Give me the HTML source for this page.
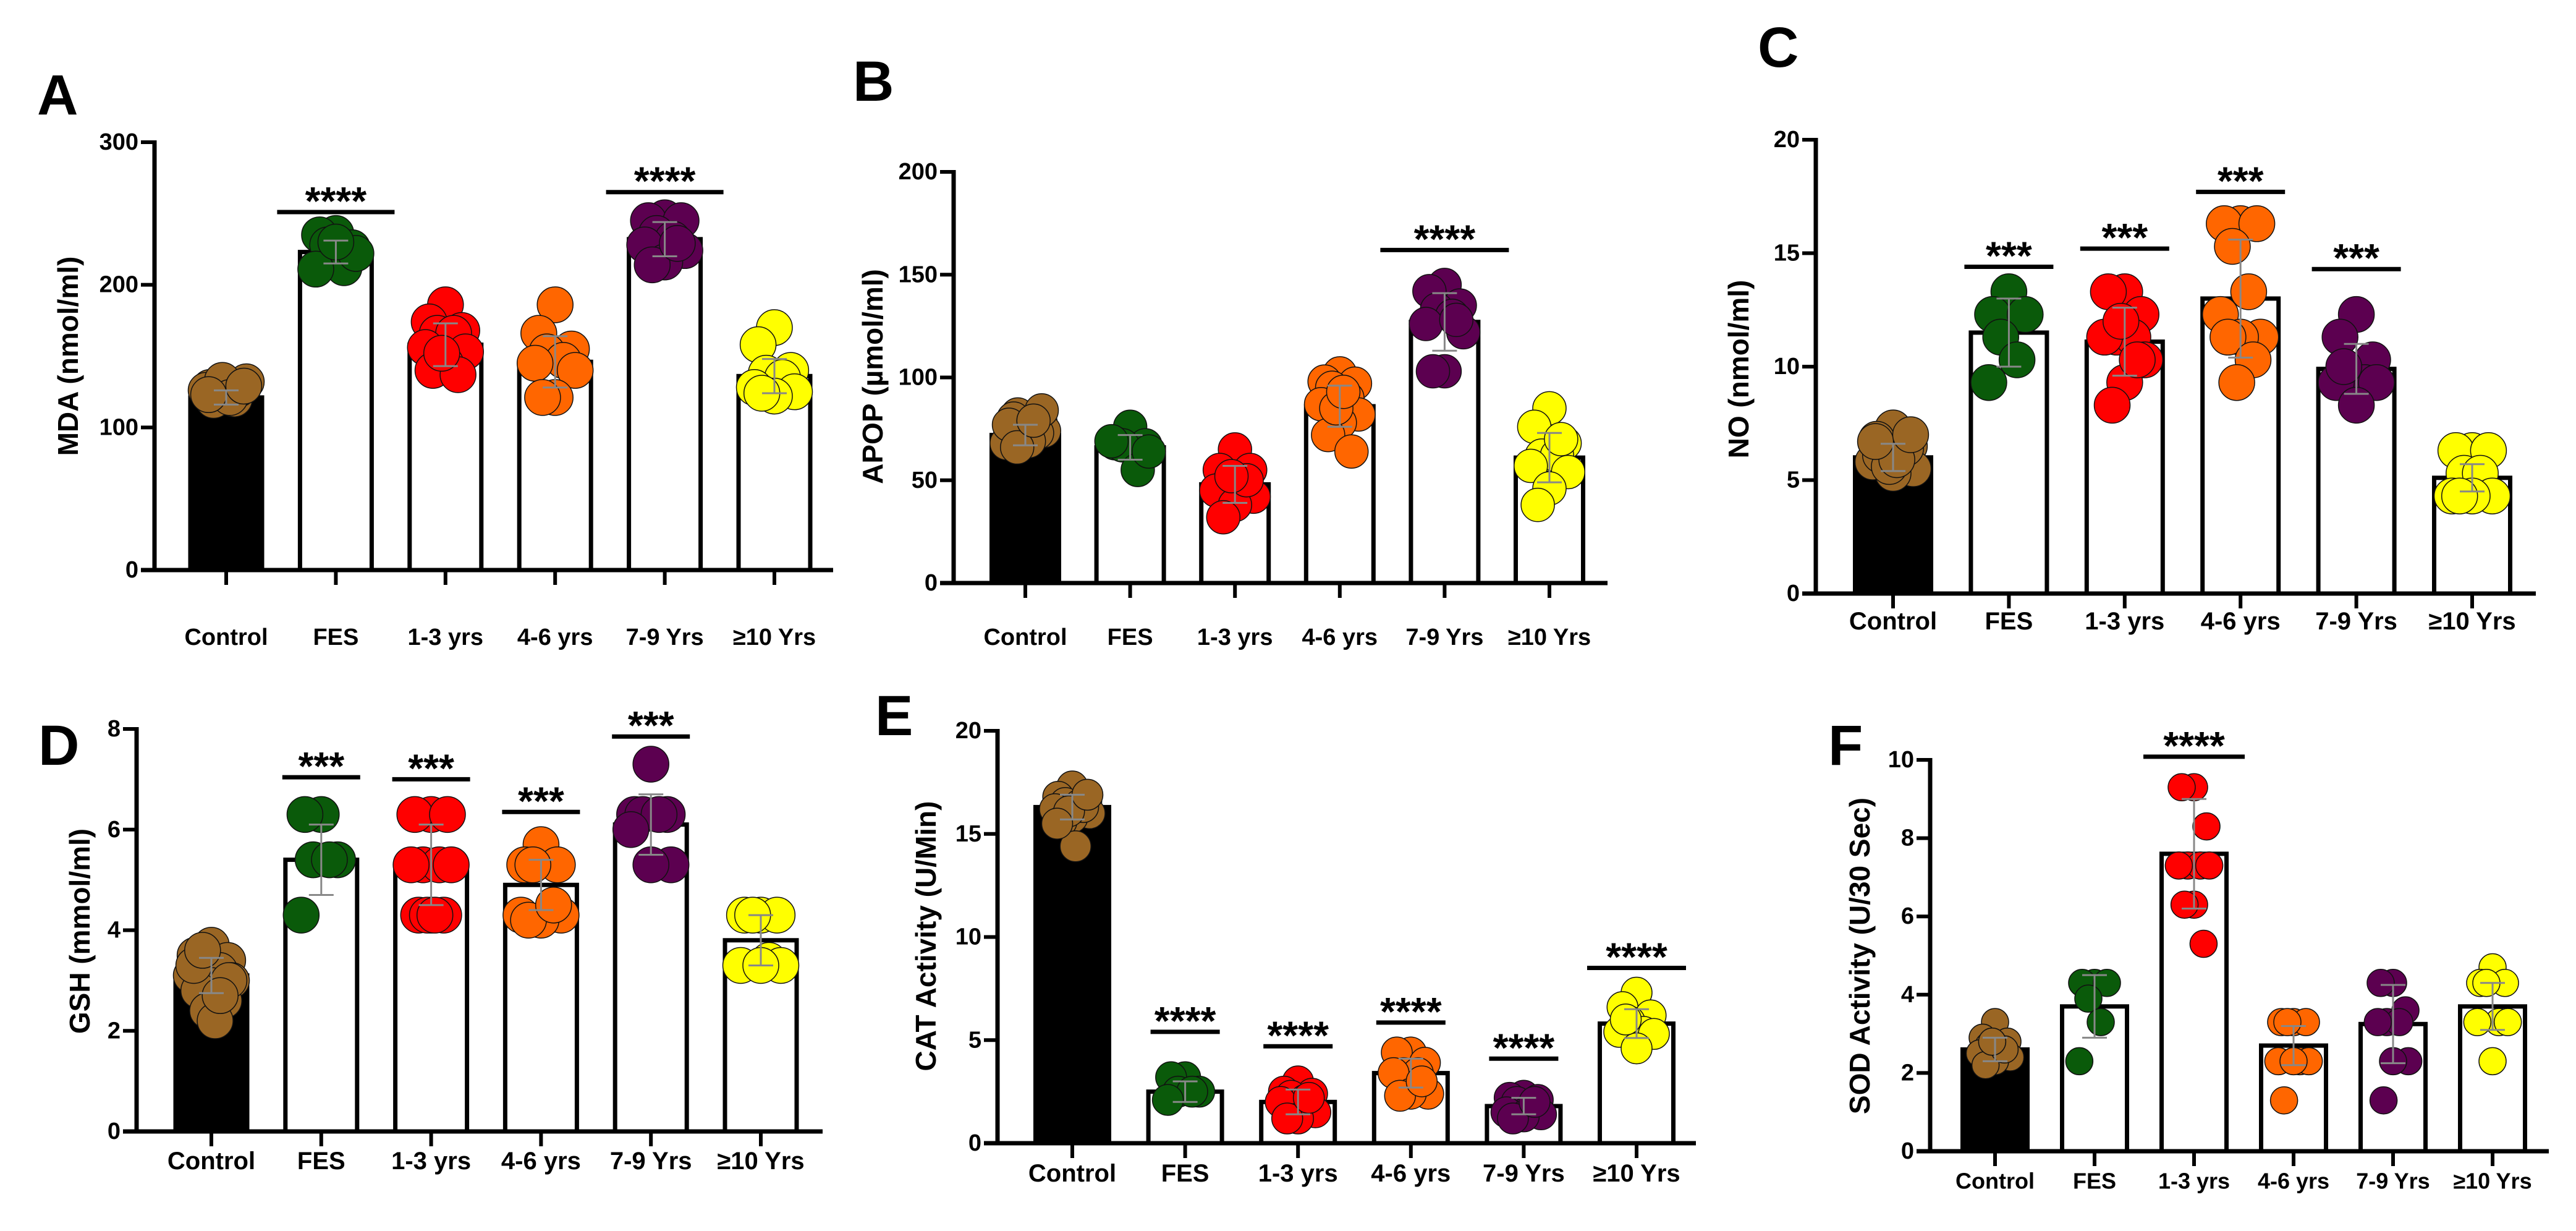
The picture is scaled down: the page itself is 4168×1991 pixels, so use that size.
<!DOCTYPE html>
<html><head><meta charset="utf-8"><style>
html,body{margin:0;padding:0;background:#fff}
svg{display:block}
text{font-family:"Liberation Sans",sans-serif;font-weight:bold;fill:#000}
</style></head><body>
<svg id="fig" xmlns="http://www.w3.org/2000/svg" width="4168" height="1991" viewBox="0 0 4168 1991"></svg>
<script>
const categories = ["Control","FES","1-3 yrs","4-6 yrs","7-9 Yrs","≥10 Yrs"];
const colors = ["#9a6624","#0a5a0a","#ff0000","#ff6600","#5c0050","#ffff00"];

// Panel A: MDA
const meansA = [121,223,158,146,232,136];
const sdA = [5,8,15,18,12,12];
const dotsA = [[125,128,130,122,120,126,132,124,119,127,133,121,123,129],[236,235,226,228,212,211,222,230],[186,174,168,166,166,156,153,145,140,137,152],[186,166,155,153,147,145,140,121,121],[247,245,245,236,232,228,224,216,214,229],[170,158,140,138,135,128,125,122,124]];
const sigA = [[1,251,"****"],[4,265,"****"]];
const ticksA = [0,100,200,300];

// Panel B: APOP
const meansB = [72,66,48,86,127,61];
const sdB = [5,6,9,10,14,12];
const dotsB = [[70,75,78,82,72,68,74,76,80,73,71,69,77,84,66,79],[76,68,67,67,55,69,64],[65,55,55,48,45,45,42,38,32,50,52],[102,98,97,95,90,87,82,78,72,64,85,93],[145,142,135,133,130,126,122,103,103,128],[85,76,68,62,62,57,54,46,38,70]];
const sigB = [[4,162,"****"]];
const ticksB = [0,50,100,150,200];

// Panel C: NO
const meansC = [6.0,11.5,11.1,13.0,9.9,5.1];
const sdC = [0.6,1.5,1.5,2.6,1.1,0.6];
const dotsC = [[7.3,6.8,6.5,6.2,6.0,5.8,5.5,5.3,6.1,6.4,5.6,5.9,6.7,7.0],[13.3,12.3,12.3,11.3,10.3,9.3],[13.3,13.3,12.3,11.3,11.3,11.3,10.3,9.3,8.3,10.3,12.0],[16.3,16.3,16.3,15.3,13.3,12.3,11.3,11.3,11.3,10.3,9.3],[12.3,11.3,10.3,9.3,9.3,9.3,9.3,8.3,10.0],[6.3,6.3,6.3,5.3,5.3,4.3,4.3,4.3,4.3]];
const sigC = [[1,14.4,"***"],[2,15.2,"***"],[3,17.7,"***"],[4,14.3,"***"]];
const ticksC = [0,5,10,15,20];

// Panel D: GSH
const meansD = [3.1,5.4,5.3,4.9,6.1,3.8];
const sdD = [0.35,0.7,0.8,0.5,0.6,0.5];
const dotsD = [[3.7,3.5,3.4,3.3,3.2,3.1,3.0,2.9,2.8,2.6,2.4,2.2,3.3,3.0,3.6,2.7],[6.3,6.3,5.4,5.4,5.4,4.3],[6.3,6.3,6.3,5.3,5.3,5.3,5.3,4.3,4.3,4.3,4.3,4.3],[5.7,5.3,5.3,5.3,4.3,4.3,4.3,4.2,4.2,4.5],[7.3,6.3,6.3,6.3,6.3,6.0,5.3,5.3],[4.3,4.3,4.3,4.3,3.4,3.3,3.3,3.3]];
const sigD = [[1,7.04,"***"],[2,7.0,"***"],[3,6.35,"***"],[4,7.85,"***"]];
const ticksD = [0,2,4,6,8];

// Panel E: CAT
const meansE = [16.3,2.5,2.0,3.4,1.8,5.8];
const sdE = [0.6,0.5,0.6,0.7,0.4,0.7];
const dotsE = [[17.3,16.8,16.6,16.5,16.4,16.2,16.0,15.8,15.6,16.3,16.1,14.4,15.5,16.9],[3.2,3.2,2.5,2.5,2.5,2.1],[3.0,2.5,2.4,2.3,2.1,2.0,1.5,1.2,1.2,2.2],[4.4,4.4,3.9,3.4,3.4,3.4,2.4,2.4,2.3,3.0],[2.3,2.2,2.1,2.0,1.7,1.5,1.4,1.3,1.2,2.0],[7.3,6.6,6.2,5.9,5.4,5.4,5.3,4.6,6.0]];
const sigE = [[1,5.4,"****"],[2,4.7,"****"],[3,5.85,"****"],[4,4.1,"****"],[5,8.5,"****"]];
const ticksE = [0,5,10,15,20];

// Panel F: SOD
const meansF = [2.6,3.7,7.6,2.7,3.25,3.7];
const sdF = [0.3,0.8,1.4,0.5,1.0,0.6];
const dotsF = [[3.3,2.9,2.8,2.7,2.6,2.5,2.4,2.3,2.2,2.6,2.8],[4.3,4.3,4.3,3.9,3.3,2.3],[9.3,9.3,8.3,7.3,7.3,7.3,7.3,6.3,6.3,5.3],[3.3,3.3,3.3,3.3,2.3,2.3,2.3,2.3,1.3],[4.3,4.3,3.6,3.3,3.3,3.3,2.3,2.3,1.3],[4.7,4.3,4.3,4.3,3.3,3.3,3.3,2.3]];
const sigF = [[2,10.08,"****"]];
const ticksF = [0,2,4,6,8,10];

const NS = "http://www.w3.org/2000/svg";
const svg = document.getElementById("fig");
function mk(tag, attrs, parent){
  const e = document.createElementNS(NS, tag);
  for (const k in attrs) e.setAttribute(k, attrs[k]);
  (parent||svg).appendChild(e);
  return e;
}
const jit = [0,-1.3,1.3,-0.65,0.65,-1.6,1.6,0,-1,1,-0.3,0.3,-1.4,1.4,-0.7,0.7];

function panel(L, means, sd, dots, sig, ticks){
  const g = mk("g", {});
  
  
  const max = ticks[ticks.length-1];
  const yS = v => L.y0 - (L.y0 - L.yTop) * v / max;
  const xS = i => L.c0 + i * L.dc;
  const lt = mk("text", {x:L.lx, y:L.ly, "font-size":92}, g);
  lt.textContent = L.letter;
  
  
  const tt = mk("text", {x:L.tx, y:L.ty, "font-size":46, "text-anchor":"middle", "dominant-baseline":"central", transform:`rotate(-90 ${L.tx} ${L.ty})`}, g);
  tt.textContent = L.title;
  
  
  means.forEach((m, i) => {
    const top = yS(m);
    const b = mk("rect", {x:xS(i)-L.bw/2, y:top, width:L.bw, height:L.y0-top,
      fill: i===0 ? "#000" : "#fff", stroke:"#000", "stroke-width":7}, g);
    
    
  });
  dots.forEach((arr, i) => {
    arr.forEach((v, k) => {
      const c = mk("circle", {cx:xS(i) + jit[k % jit.length] * L.r * 0.7, cy:yS(v), r:L.r,
        fill:colors[i], stroke:"#111", "stroke-width":1.5}, g);
      
      
    });
  });
  means.forEach((m, i) => {
    const x = xS(i), a = yS(m + sd[i]), b = yS(m - sd[i]);
    const e = mk("path", {d:`M${x} ${a}V${b}M${x-20} ${a}H${x+20}M${x-20} ${b}H${x+20}`, stroke:"#888", "stroke-width":3, fill:"none"}, g);
    
    
  });
  const ya = mk("path", {d:`M${L.ax} ${L.yTop-3}V${L.y0}`, stroke:"#000", "stroke-width":7, fill:"none"}, g);
  
  
  const xa = mk("path", {d:`M${L.ax-22} ${L.y0}H${L.xEnd}`, stroke:"#000", "stroke-width":7, fill:"none"}, g);
  
  
  ticks.forEach(t => {
    const y = yS(t);
    mk("path", {d:`M${L.ax-22} ${y}H${L.ax}`, stroke:"#000", "stroke-width":6}, g);
    const tx = mk("text", {x:L.ax-26, y:y, "font-size":38, "text-anchor":"end", "dominant-baseline":"central"}, g);
    tx.textContent = t;
    
    
  });
  categories.forEach((c, i) => {
    const x = xS(i);
    mk("path", {d:`M${x} ${L.y0}V${L.y0+24}`, stroke:"#000", "stroke-width":6}, g);
    const tx = mk("text", {x:x, y:L.labY, "font-size":L.lf, "text-anchor":"middle", "dominant-baseline":"central"}, g);
    tx.textContent = c;
    
    
  });
  sig.forEach(s => {
    const x = xS(s[0]), y = yS(s[1]);
    const hw = (s[0] === 5 && L.letter === "E") ? 80 : L.sh;
    const ln = mk("path", {d:`M${x-hw} ${y}H${x+hw}`, stroke:"#000", "stroke-width":7}, g);
    
    
    const st = mk("text", {x:x, y:y+4, "font-size":64, "text-anchor":"middle"}, g);
    st.textContent = s[2];
    
    
  });
}

panel({letter:"A", lx:60, ly:185, title:"MDA (nmol/ml)", tx:110, ty:576, ax:250, yTop:230, y0:922, xEnd:1348, c0:366, dc:177.4, bw:116, r:29, labY:1031, lf:38, sh:95}, meansA, sdA, dotsA, sigA, ticksA);
panel({letter:"B", lx:1380, ly:163, title:"APOP (µmol/ml)", tx:1412, ty:609, ax:1543, yTop:278, y0:943, xEnd:2601, c0:1659, dc:169.6, bw:109, r:27, labY:1031, lf:38, sh:104}, meansB, sdB, dotsB, sigB, ticksB);
panel({letter:"C", lx:2844, ly:108, title:"NO (nmol/ml)", tx:2813, ty:597, ax:2938, yTop:226, y0:960, xEnd:4103, c0:3063, dc:187.4, bw:123, r:29, labY:1005, lf:40, sh:72}, meansC, sdC, dotsC, sigC, ticksC);
panel({letter:"D", lx:62, ly:1237, title:"GSH (mmol/ml)", tx:129, ty:1506, ax:221, yTop:1179, y0:1830, xEnd:1331, c0:342, dc:177.8, bw:116, r:29, labY:1878, lf:40, sh:63}, meansD, sdD, dotsD, sigD, ticksD);
panel({letter:"E", lx:1416, ly:1189, title:"CAT Activity (U/Min)", tx:1498, ty:1514, ax:1614, yTop:1182, y0:1849, xEnd:2744, c0:1735, dc:182.6, bw:119, r:25, labY:1898, lf:40, sh:56}, meansE, sdE, dotsE, sigE, ticksE);
panel({letter:"F", lx:2958, ly:1237, title:"SOD Activity (U/30 Sec)", tx:3009, ty:1546, ax:3123, yTop:1229, y0:1862, xEnd:4124, c0:3228, dc:161, bw:105, r:22, labY:1910, lf:36, sh:82}, meansF, sdF, dotsF, sigF, ticksF);
</script>
</body></html>
